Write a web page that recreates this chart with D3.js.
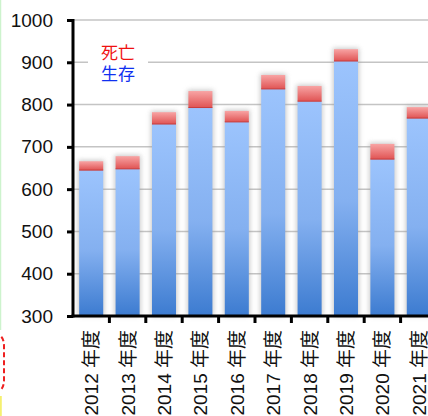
<!DOCTYPE html>
<html>
<head>
<meta charset="utf-8">
<script src="https://cdn.jsdelivr.net/npm/d3@7"></script>
<style>
  body { margin: 0; background: #fff; }
  svg { display: block; font-family: "Liberation Sans", Arial, "Noto Sans CJK JP", sans-serif; }
</style>
</head>
<body>
<svg></svg>
<script>
const width = 428;
const height = 416;

// data
const years = ["2012", "2013", "2014", "2015", "2016", "2017", "2018", "2019", "2020", "2021"];
const survived = [645, 648, 754, 793, 759, 837, 808, 903, 671, 768];
const total = [666, 678, 782, 832, 785, 870, 844, 931, 707, 794];
const yTicks = [300, 400, 500, 600, 700, 800, 900, 1000];
const legendLabels = ["死亡", "生存"];

const svg = d3.select("svg").attr("width", width).attr("height", height);

const defs = svg.append("defs");
const blue = defs.append("linearGradient").attr("id", "blue").attr("x1", 0).attr("y1", 0).attr("x2", 0).attr("y2", 1);
blue.append("stop").attr("offset", "0%").attr("stop-color", "#9cc4fd");
blue.append("stop").attr("offset", "55%").attr("stop-color", "#84b0f0");
blue.append("stop").attr("offset", "100%").attr("stop-color", "#3c7bd0");
const red = defs.append("linearGradient").attr("id", "red").attr("x1", 0).attr("y1", 0).attr("x2", 0).attr("y2", 1);
red.append("stop").attr("offset", "0%").attr("stop-color", "#f8a4a4");
red.append("stop").attr("offset", "100%").attr("stop-color", "#e05454");
defs.append("filter").attr("id", "shadow").attr("x", "-50%").attr("y", "-10%").attr("width", "200%").attr("height", "120%")
  .append("feGaussianBlur").attr("stdDeviation", 2.5);

const x = d3.scaleBand().domain(years).range([73, 437]).paddingInner(0.34).paddingOuter(0.17);
const y = d3.scaleLinear().domain([300, 1000]).range([316, 20]);

// outer page decoration on the left edge
svg.append("line").attr("x1", 0.5).attr("x2", 0.5).attr("y1", 0).attr("y2", 330)
  .attr("stroke", "#cdf3cd").attr("stroke-width", 1.5);
svg.append("path").attr("d", "M-6,334 Q4,334 4,346 L4,380 Q4,392 -6,392")
  .attr("fill", "none").attr("stroke", "#ee2020").attr("stroke-width", 2).attr("stroke-dasharray", "5,3");
svg.append("line").attr("x1", 0.8).attr("x2", 0.8).attr("y1", 396).attr("y2", 416)
  .attr("stroke", "#f5f070").attr("stroke-width", 2);

// grid
svg.append("g").selectAll("line").data(yTicks.slice(1)).join("line")
  .attr("x1", 73).attr("x2", width)
  .attr("y1", d => y(d)).attr("y2", d => y(d))
  .attr("stroke", "#c4c4c4").attr("stroke-width", 1.5);

// legend background + text
svg.append("rect").attr("x", 88).attr("y", 36).attr("width", 60).attr("height", 50).attr("fill", "#fff");
svg.append("g").selectAll("text").data(legendLabels).join("text")
  .attr("x", 118).attr("y", (d, i) => 59 + i * 21)
  .attr("text-anchor", "middle")
  .attr("font-family", "Noto Sans CJK JP")
  .attr("font-size", 17)
  .attr("fill", (d, i) => i === 0 ? "#f01010" : "#1030f0")
  .text(d => d);

// bars
const bars = svg.append("g").selectAll("g").data(years).join("g");
bars.append("rect")
  .attr("x", d => x(d) - 1).attr("width", x.bandwidth() + 2)
  .attr("y", (d, i) => y(total[i]) - 1)
  .attr("height", (d, i) => y(300) - y(total[i]) + 1)
  .attr("fill", "#9a9a9a").attr("opacity", 0.55)
  .attr("filter", "url(#shadow)");
bars.append("rect")
  .attr("x", d => x(d)).attr("width", x.bandwidth())
  .attr("y", (d, i) => y(survived[i]))
  .attr("height", (d, i) => y(300) - y(survived[i]))
  .attr("fill", "url(#blue)");
bars.append("rect")
  .attr("x", d => x(d)).attr("width", x.bandwidth())
  .attr("y", (d, i) => y(total[i]))
  .attr("height", (d, i) => y(survived[i]) - y(total[i]))
  .attr("fill", "url(#red)");
bars.append("line")
  .attr("x1", d => x(d)).attr("x2", d => x(d) + x.bandwidth())
  .attr("y1", (d, i) => y(survived[i])).attr("y2", (d, i) => y(survived[i]))
  .attr("stroke", "#c83c3c").attr("stroke-width", 1);

// y axis
const yAxis = svg.append("g").attr("transform", "translate(73,0)")
  .call(d3.axisLeft(y).tickValues(yTicks).tickSize(6).tickPadding(14).tickFormat(d3.format("d")));
yAxis.select(".domain").attr("stroke", "#000").attr("stroke-width", 3).attr("d", "M0,19V317.5");
yAxis.selectAll(".tick line").attr("stroke", "#000").attr("stroke-width", 3);
yAxis.selectAll(".tick text").attr("font-size", 19).attr("fill", "#111")
  .attr("font-family", "Liberation Sans, Arial, sans-serif");

// x axis with ticks on band boundaries
const xAxis = svg.append("g").attr("transform", "translate(0,316)");
xAxis.append("line").attr("x1", 71.5).attr("x2", width).attr("y1", 0).attr("y2", 0)
  .attr("stroke", "#000").attr("stroke-width", 3);
xAxis.selectAll(".tk").data(years.slice(1)).join("line").attr("class", "tk")
  .attr("x1", d => x(d) - x.step() * x.paddingInner() / 2)
  .attr("x2", d => x(d) - x.step() * x.paddingInner() / 2)
  .attr("y1", 0).attr("y2", 7)
  .attr("stroke", "#000").attr("stroke-width", 3);
xAxis.selectAll("text").data(years).join("text")
  .attr("transform", d => `translate(${x(d) + x.bandwidth() / 2 + 7},14) rotate(-90)`)
  .attr("text-anchor", "end")
  .attr("font-size", 19).attr("fill", "#111")
  .text(d => d + " 年度");
</script>
</body>
</html>
